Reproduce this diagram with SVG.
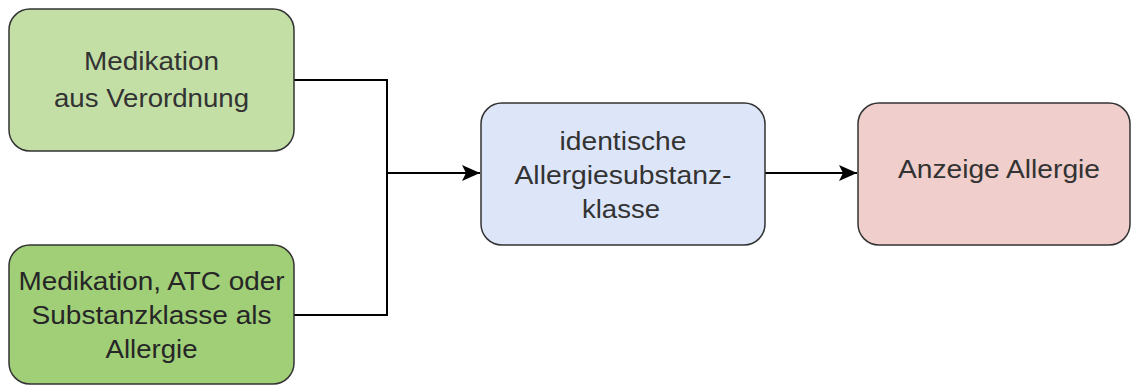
<svg xmlns="http://www.w3.org/2000/svg" width="1131" height="385" viewBox="0 0 1131 385">
<style>
.box{stroke:#333333;stroke-width:1.5}
.t{font-family:"Liberation Sans",Arial,sans-serif;font-size:25px;fill:#333333;text-anchor:middle}
.c{fill:none;stroke:#000000;stroke-width:2}
</style>
<defs>
<marker id="arr" markerWidth="20" markerHeight="20" viewBox="0 0 20 20" refX="19" refY="10" orient="auto" markerUnits="userSpaceOnUse">
<path d="M1,2 L19,10 L1,18 L5,10 Z" fill="#000000"/>
</marker>
</defs>
<rect width="1131" height="385" fill="#ffffff"/>
<g id="connectors">
<polyline class="c" points="294,80 387,80 387,315 294,315"/>
<line class="c" x1="387" y1="173" x2="480" y2="173" marker-end="url(#arr)"/>
<line class="c" x1="765" y1="173" x2="857" y2="173" marker-end="url(#arr)"/>
</g>
<g id="node-medikation-verordnung">
<rect class="box" x="9" y="9" width="285" height="142" rx="21" fill="#c3dfa6"/>
<text class="t" x="151.5" y="70" textLength="135" lengthAdjust="spacingAndGlyphs">Medikation</text>
<text class="t" x="151.5" y="107" textLength="195" lengthAdjust="spacingAndGlyphs">aus Verordnung</text>
</g>
<g id="node-medikation-allergie">
<rect class="box" x="9" y="245" width="285" height="139" rx="21" fill="#a0cf78"/>
<text class="t" x="151.5" y="290" style="fill:#262626" textLength="266" lengthAdjust="spacingAndGlyphs">Medikation, ATC oder</text>
<text class="t" x="151.5" y="324" style="fill:#262626" textLength="240" lengthAdjust="spacingAndGlyphs">Substanzklasse als</text>
<text class="t" x="151.5" y="358" style="fill:#262626" textLength="92" lengthAdjust="spacingAndGlyphs">Allergie</text>
</g>
<g id="node-identische">
<rect class="box" x="481" y="103" width="284" height="142" rx="21" fill="#dde6f9"/>
<text class="t" x="623" y="150" textLength="127" lengthAdjust="spacingAndGlyphs">identische</text>
<text class="t" x="623" y="184" textLength="217" lengthAdjust="spacingAndGlyphs">Allergiesubstanz-</text>
<text class="t" x="621" y="218" textLength="78" lengthAdjust="spacingAndGlyphs">klasse</text>
</g>
<g id="node-anzeige">
<rect class="box" x="858" y="103" width="272" height="142" rx="21" fill="#f0cecb"/>
<text class="t" x="999" y="178" textLength="202" lengthAdjust="spacingAndGlyphs">Anzeige Allergie</text>
</g>
</svg>
